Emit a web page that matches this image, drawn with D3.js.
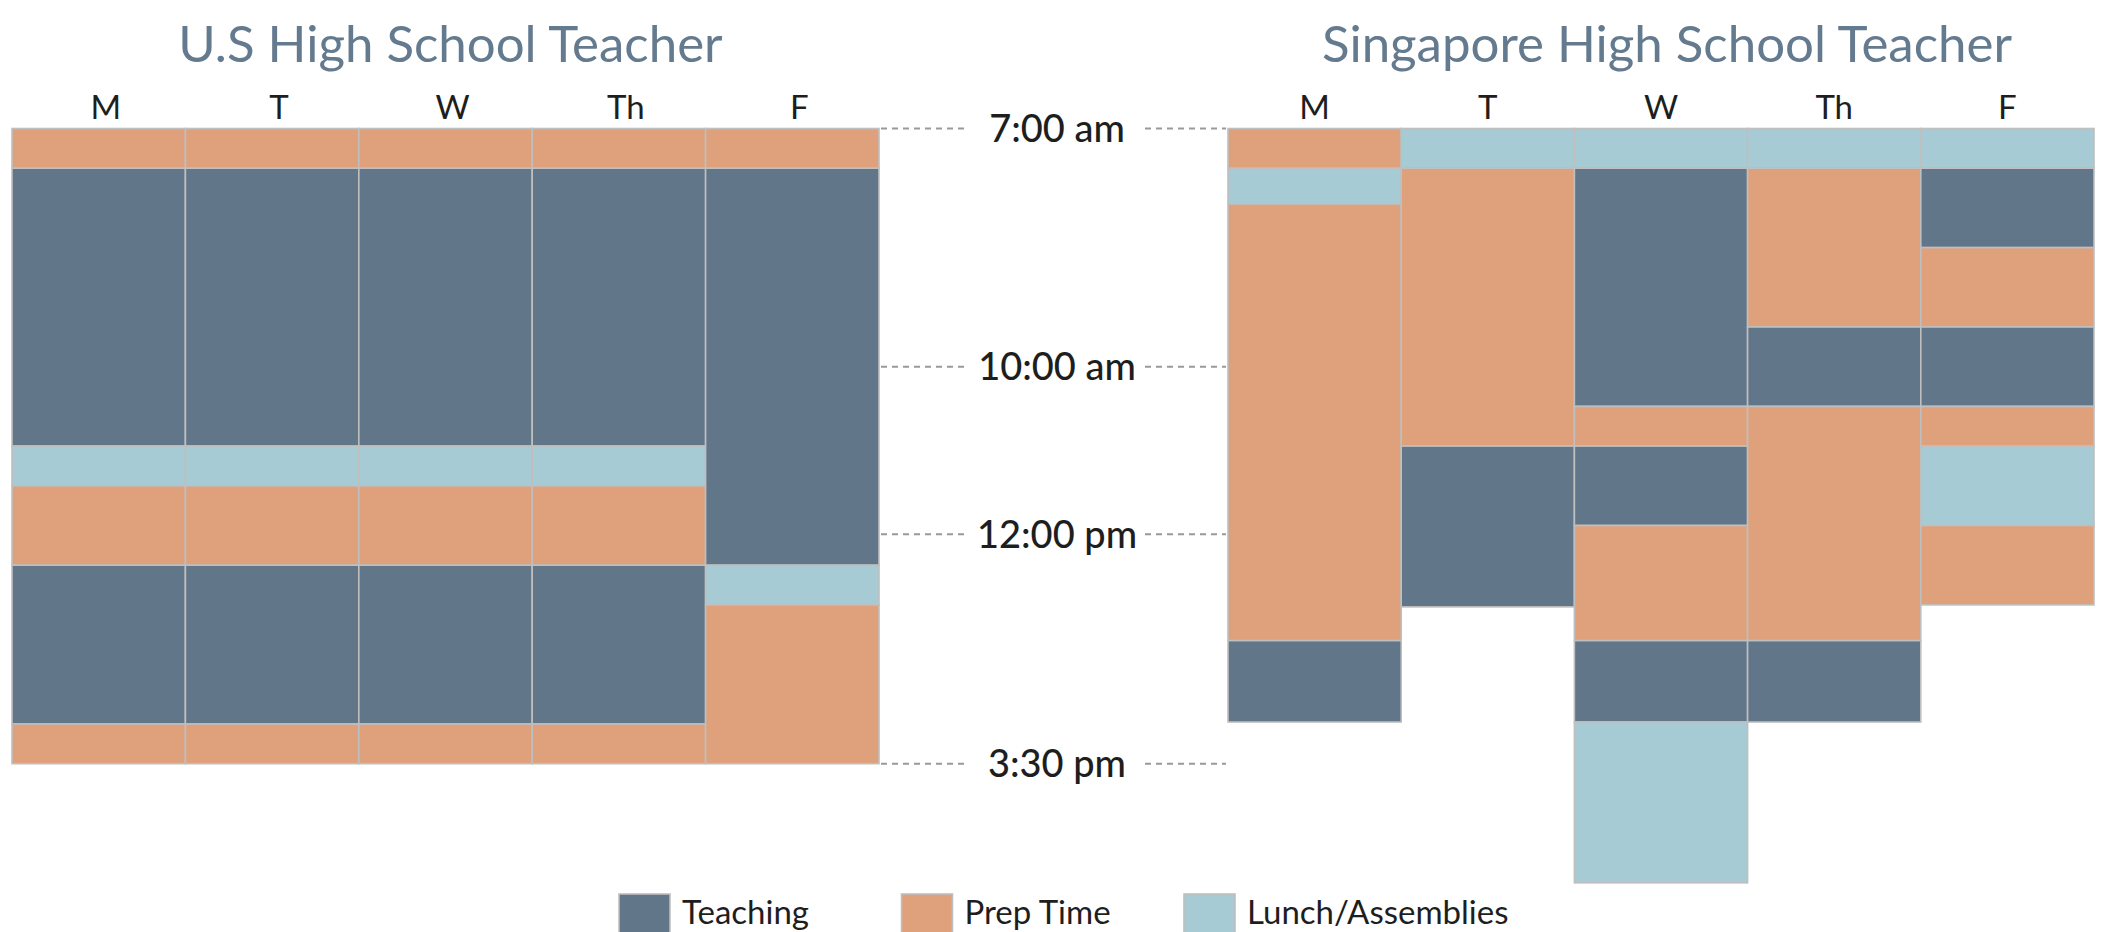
<!DOCTYPE html>
<html>
<head>
<meta charset="utf-8">
<script src="https://cdn.jsdelivr.net/npm/d3@7"></script>
<style>
  html, body { margin: 0; padding: 0; background: #ffffff; }
  svg { display: block; }
  text { font-family: Lato, "Open Sans", sans-serif; }
</style>
</head>
<body>
<script>
// ---------------- DATA ----------------
const days = ["M", "T", "W", "Th", "F"];
const categories = ["Teaching", "Prep Time", "Lunch/Assemblies"];

// Schedule blocks, in half-hour-like slots from the start of the day (slot 0 = 7:00 am)
// [day, category, startSlot, endSlot]
const usBlocks = [
  ["M", "Prep Time", 0, 1], ["M", "Teaching", 1, 8], ["M", "Lunch/Assemblies", 8, 9],
  ["M", "Prep Time", 9, 11], ["M", "Teaching", 11, 15], ["M", "Prep Time", 15, 16],
  ["T", "Prep Time", 0, 1], ["T", "Teaching", 1, 8], ["T", "Lunch/Assemblies", 8, 9],
  ["T", "Prep Time", 9, 11], ["T", "Teaching", 11, 15], ["T", "Prep Time", 15, 16],
  ["W", "Prep Time", 0, 1], ["W", "Teaching", 1, 8], ["W", "Lunch/Assemblies", 8, 9],
  ["W", "Prep Time", 9, 11], ["W", "Teaching", 11, 15], ["W", "Prep Time", 15, 16],
  ["Th", "Prep Time", 0, 1], ["Th", "Teaching", 1, 8], ["Th", "Lunch/Assemblies", 8, 9],
  ["Th", "Prep Time", 9, 11], ["Th", "Teaching", 11, 15], ["Th", "Prep Time", 15, 16],
  ["F", "Prep Time", 0, 1], ["F", "Teaching", 1, 11], ["F", "Lunch/Assemblies", 11, 12],
  ["F", "Prep Time", 12, 16]
];

const sgBlocks = [
  ["M", "Prep Time", 0, 1], ["M", "Lunch/Assemblies", 1, 1.9], ["M", "Prep Time", 1.9, 12.9],
  ["M", "Teaching", 12.9, 14.95],
  ["T", "Lunch/Assemblies", 0, 1], ["T", "Prep Time", 1, 8], ["T", "Teaching", 8, 12.05],
  ["W", "Lunch/Assemblies", 0, 1], ["W", "Teaching", 1, 7], ["W", "Prep Time", 7, 8],
  ["W", "Teaching", 8, 10], ["W", "Prep Time", 10, 12.9], ["W", "Teaching", 12.9, 14.95],
  ["W", "Lunch/Assemblies", 14.95, 19],
  ["Th", "Lunch/Assemblies", 0, 1], ["Th", "Prep Time", 1, 5], ["Th", "Teaching", 5, 7],
  ["Th", "Prep Time", 7, 12.9], ["Th", "Teaching", 12.9, 14.95],
  ["F", "Lunch/Assemblies", 0, 1], ["F", "Teaching", 1, 3], ["F", "Prep Time", 3, 5],
  ["F", "Teaching", 5, 7], ["F", "Prep Time", 7, 8], ["F", "Lunch/Assemblies", 8, 10],
  ["F", "Prep Time", 10, 12]
];

const timeLabels = ["7:00 am", "10:00 am", "12:00 pm", "3:30 pm"];
const timeSlots = [0, 6, 10.22, 16];

const titles = ["U.S High School Teacher", "Singapore High School Teacher"];

// ---------------- STYLE / LAYOUT ----------------
const W = 2102, H = 932;
const colors = { "Teaching": "#627689", "Prep Time": "#dfa17b", "Lunch/Assemblies": "#a6cbd4" };
const color = d3.scaleOrdinal().domain(categories).range(categories.map(c => colors[c]));

const svg = d3.select("body").append("svg").attr("width", W).attr("height", H);

const y = d3.scaleLinear().domain([0, 19]).range([128.5, 128.5 + 19 * 39.7]);

const panels = [
  { title: titles[0], blocks: usBlocks, range: [12, 879], labelShift: 7, titleShift: 5 },
  { title: titles[1], blocks: sgBlocks, range: [1228, 2094], labelShift: 0, titleShift: 6 }
];

panels.forEach(p => {
  const x = d3.scaleBand().domain(days).range(p.range).padding(0);
  const g = svg.append("g");

  g.append("text")
    .attr("x", (p.range[0] + p.range[1]) / 2 + p.titleShift)
    .attr("y", 62)
    .attr("text-anchor", "middle")
    .attr("font-size", 51)
    .attr("fill", "#647a8f")
    .text(p.title);

  g.selectAll("text.day").data(days).join("text")
    .attr("class", "day")
    .attr("x", d => x(d) + x.bandwidth() / 2 + p.labelShift)
    .attr("y", 119)
    .attr("text-anchor", "middle")
    .attr("font-size", 33)
    .attr("fill", "#1e1e1e")
    .text(d => d);

  g.selectAll("rect.block").data(p.blocks).join("rect")
    .attr("class", "block")
    .attr("x", d => x(d[0]))
    .attr("width", x.bandwidth())
    .attr("y", d => y(d[2]))
    .attr("height", d => y(d[3]) - y(d[2]))
    .attr("fill", d => color(d[1]))
    .attr("stroke", "#bfbfbf")
    .attr("stroke-width", 1.6);
});

// time labels with dashed leader lines
const tc = 1057;
const tg = svg.append("g");
timeLabels.forEach((lab, i) => {
  const yy = y(timeSlots[i]);
  tg.append("line").attr("x1", 881).attr("x2", tc - 88).attr("y1", yy).attr("y2", yy)
    .attr("stroke", "#999").attr("stroke-width", 2).attr("stroke-dasharray", "6,5");
  tg.append("line").attr("x1", tc + 88).attr("x2", 1226).attr("y1", yy).attr("y2", yy)
    .attr("stroke", "#999").attr("stroke-width", 2).attr("stroke-dasharray", "6,5");
  tg.append("text").attr("x", tc).attr("y", yy).attr("dy", "0.36em")
    .attr("text-anchor", "middle").attr("font-size", 38).attr("font-weight", 500)
    .attr("fill", "#1e1e1e").text(lab);
});

// legend
const legendX = d3.scalePoint().domain(categories).range([619, 1184]);
const lg = svg.append("g");
lg.selectAll("rect").data(categories).join("rect")
  .attr("x", d => legendX(d)).attr("y", 894).attr("width", 51).attr("height", 51)
  .attr("fill", d => color(d)).attr("stroke", "#bfbfbf").attr("stroke-width", 1.6);
lg.selectAll("text").data(categories).join("text")
  .attr("x", d => legendX(d) + 63).attr("y", 924)
  .attr("font-size", 33).attr("fill", "#1e1e1e").text(d => d);
</script>
</body>
</html>
